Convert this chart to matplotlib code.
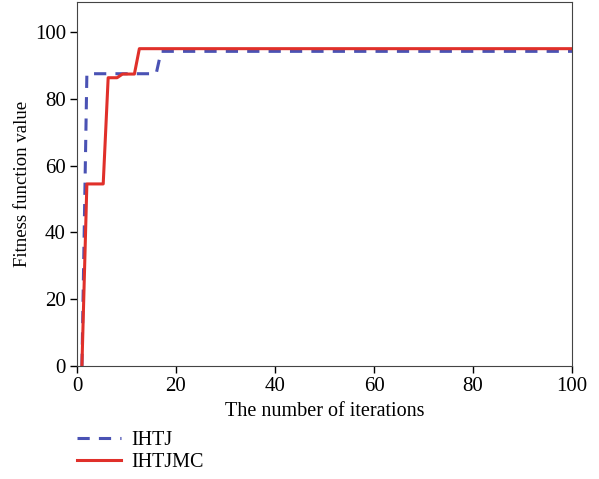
import matplotlib
matplotlib.use('Agg')
import matplotlib.pyplot as plt

# valores
iter_ihtj = [1, 2, 16, 17, 100]
fit_ihtj = [0, 87.5, 87.5, 94.2, 94.2]

iter_ihtjmc = [1, 2, 5.3, 6.3, 8.1, 9.2, 11.6, 12.6, 100]
fit_ihtjmc = [0, 54.5, 54.5, 86.3, 86.3, 87.4, 87.4, 95.0, 95.0]

plt.rcParams['font.family'] = ['Liberation Serif', 'DejaVu Serif']

fig = plt.figure(figsize=(5.99, 4.79), dpi=100)
ax = fig.add_axes([0.1285, 0.236, 0.8265, 0.76])

ax.plot(iter_ihtj, fit_ihtj, color='#4a52b4', linestyle='--', linewidth=2.2, dashes=(4, 3), label='IHTJ')
ax.plot(iter_ihtjmc, fit_ihtjmc, color='#e0302a', linewidth=2.2, label='IHTJMC')

ax.set_xlim(0, 100)
ax.set_ylim(0, 109)
ax.set_xticks([0, 20, 40, 60, 80, 100])
ax.set_yticks([0, 20, 40, 60, 80, 100])
ax.tick_params(labelsize=15, direction='out', length=5, width=1, pad=3)
for s in ax.spines.values():
    s.set_color('#444444')
ax.set_xlabel('The number of iterations', fontsize=14.5, labelpad=4)
ax.set_ylabel('Fitness function value', fontsize=13.5, labelpad=3)

fig.legend(loc='upper left', bbox_to_anchor=(0.105, 0.13), frameon=False,
           fontsize=14.5, handlelength=2.2, handletextpad=0.5,
           labelspacing=0.15, borderpad=0.2)

fig.savefig('out.png', dpi=100)
